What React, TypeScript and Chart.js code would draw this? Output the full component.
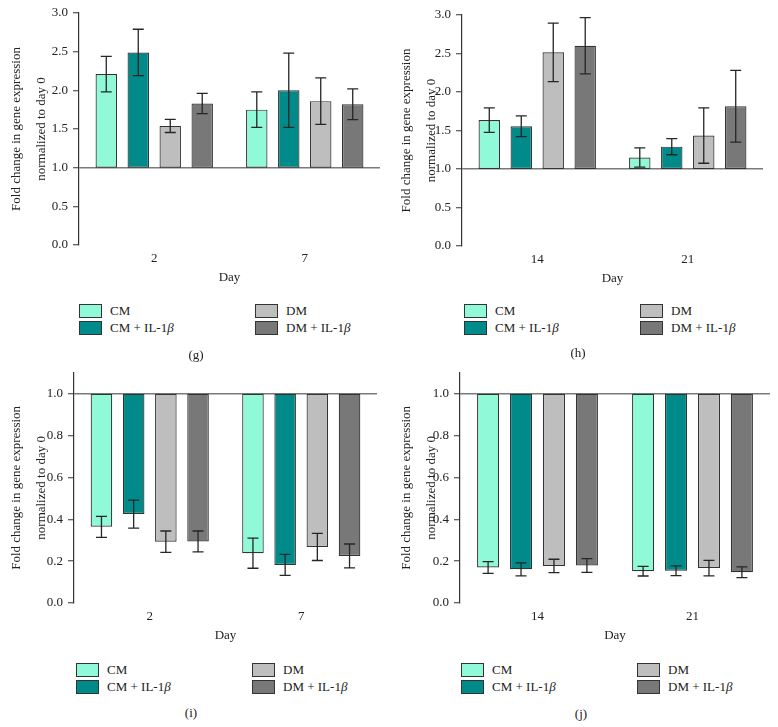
import React, { useEffect, useRef } from "react";
import { Chart, registerables } from "chart.js";

Chart.register(...registerables);

const FONT = "'Liberation Serif', 'Times New Roman', serif";

const SERIES = ["CM", "CM + IL-1β", "DM", "DM + IL-1β"];
const COLORS = ["#8ff9d8", "#008b8a", "#bebebe", "#787878"];
const BORDER = "#333333";

// Panel (g)
const gDays = ["2", "7"];
const gCM = [2.21, 1.75];
const gCMErr = [0.23, 0.23];
const gCMIL = [2.49, 2.0];
const gCMILErr = [0.3, 0.48];
const gDM = [1.54, 1.86];
const gDMErr = [0.085, 0.3];
const gDMIL = [1.83, 1.82];
const gDMILErr = [0.13, 0.2];

// Panel (h)
const hDays = ["14", "21"];
const hCM = [1.635, 1.15];
const hCMErr = [0.16, 0.125];
const hCMIL = [1.555, 1.29];
const hCMILErr = [0.135, 0.105];
const hDM = [2.515, 1.435];
const hDMErr = [0.38, 0.36];
const hDMIL = [2.6, 1.815];
const hDMILErr = [0.365, 0.465];

// Panel (i)
const iDays = ["2", "7"];
const iCM = [0.364, 0.238];
const iCMErr = [0.05, 0.072];
const iCMIL = [0.425, 0.182];
const iCMILErr = [0.067, 0.05];
const iDM = [0.293, 0.268];
const iDMErr = [0.051, 0.065];
const iDMIL = [0.294, 0.225];
const iDMILErr = [0.05, 0.057];

// Panel (j)
const jDays = ["14", "21"];
const jCM = [0.17, 0.152];
const jCMErr = [0.028, 0.023];
const jCMIL = [0.161, 0.154];
const jCMILErr = [0.031, 0.023];
const jDM = [0.177, 0.167];
const jDMErr = [0.032, 0.037];
const jDMIL = [0.179, 0.147];
const jDMILErr = [0.033, 0.026];

const ticksUp = [0, 0.5, 1.0, 1.5, 2.0, 2.5, 3.0];
const ticksDown = [0, 0.2, 0.4, 0.6, 0.8, 1.0];
const BASELINE = 1;

const errorBarPlugin = {
  id: "errorBars",
  afterDatasetsDraw(chart: any) {
    const { ctx } = chart;
    const yScale = chart.scales.y;
    chart.data.datasets.forEach((ds: any, i: number) => {
      const meta = chart.getDatasetMeta(i);
      meta.data.forEach((el: any, j: number) => {
        const m = ds.means[j];
        const e = ds.errors[j];
        const x = el.x;
        const yT = yScale.getPixelForValue(m + e);
        const yB = yScale.getPixelForValue(m - e);
        const cap = 5.5;
        ctx.save();
        ctx.strokeStyle = "#262626";
        ctx.lineWidth = 1.3;
        ctx.beginPath();
        ctx.moveTo(x, yT);
        ctx.lineTo(x, yB);
        ctx.moveTo(x - cap, yT);
        ctx.lineTo(x + cap, yT);
        ctx.moveTo(x - cap, yB);
        ctx.lineTo(x + cap, yB);
        ctx.stroke();
        ctx.restore();
      });
    });
  },
};

type PanelProps = {
  left: number;
  top: number;
  width: number;
  height: number;
  padding: { top: number; right: number; bottom: number; left: number };
  yWidth: number;
  xHeight: number;
  days: string[];
  means: number[][];
  errors: number[][];
  yMax: number;
  yTicks: number[];
};

function Panel(p: PanelProps) {
  const ref = useRef<HTMLCanvasElement>(null);
  useEffect(() => {
    if (!ref.current) return;
    const chart = new Chart(ref.current, {
      type: "bar",
      data: {
        labels: p.days,
        datasets: SERIES.map((name, k) => ({
          label: name,
          data: p.means[k].map((v) => [BASELINE, v]),
          means: p.means[k],
          errors: p.errors[k],
          backgroundColor: COLORS[k],
          borderColor: BORDER,
          borderWidth: 1.2,
          borderSkipped: false,
          categoryPercentage: 0.85,
          barPercentage: 0.67,
        })) as any,
      },
      options: {
        responsive: false,
        animation: false,
        devicePixelRatio: 1,
        layout: { padding: p.padding },
        plugins: {
          legend: { display: false },
          tooltip: { enabled: false },
        },
        scales: {
          x: {
            afterFit: (s: any) => {
              s.height = p.xHeight;
            },
            grid: { display: false, drawTicks: false },
            border: { display: false },
            ticks: {
              color: "#222",
              padding: 6,
              font: { family: FONT, size: 13 },
            },
            title: {
              display: true,
              text: "Day",
              color: "#222",
              padding: { top: 4, bottom: 4 },
              font: { family: FONT, size: 13 },
            },
          },
          y: {
            min: 0,
            max: p.yMax,
            afterFit: (s: any) => {
              s.width = p.yWidth;
            },
            afterBuildTicks: (s: any) => {
              s.ticks = p.yTicks.map((v) => ({ value: v }));
            },
            grid: {
              color: (c: any) =>
                c.tick && Math.abs(c.tick.value - BASELINE) < 1e-9 ? "#7a7a7a" : "rgba(0,0,0,0)",
              lineWidth: 1.5,
              drawTicks: true,
              tickLength: 6,
              tickColor: "#333",
              tickWidth: 1,
            },
            border: { display: true, color: "#333", width: 1.2 },
            ticks: {
              color: "#222",
              padding: 5,
              font: { family: FONT, size: 13 },
              callback: (v: any) => Number(v).toFixed(1),
            },
            title: {
              display: true,
              text: ["Fold change in gene expression", "normalized to day 0"],
              color: "#222",
              padding: { top: 4, bottom: 0 },
              font: { family: FONT, size: 13, lineHeight: "25px" },
            },
          },
        },
      },
      plugins: [errorBarPlugin],
    });
    return () => chart.destroy();
  }, []);
  return (
    <canvas
      ref={ref}
      width={p.width}
      height={p.height}
      style={{ position: "absolute", left: p.left, top: p.top, width: p.width, height: p.height }}
    />
  );
}

function LegendBlock({ x, y, dx }: { x: number; y: number; dx: number }) {
  const items = [
    { c: COLORS[0], t: <>CM</>, col: 0, row: 0 },
    { c: COLORS[1], t: <>CM + IL-1<i>β</i></>, col: 0, row: 1 },
    { c: COLORS[2], t: <>DM</>, col: 1, row: 0 },
    { c: COLORS[3], t: <>DM + IL-1<i>β</i></>, col: 1, row: 1 },
  ];
  return (
    <>
      {items.map((it, k) => (
        <div
          key={k}
          style={{
            position: "absolute",
            left: x + it.col * dx,
            top: y + it.row * 17,
            height: 14,
            display: "flex",
            alignItems: "center",
            whiteSpace: "nowrap",
          }}
        >
          <div
            style={{
              width: 21,
              height: 12,
              background: it.c,
              border: "1px solid #333",
              marginRight: 8,
            }}
          />
          <span style={{ fontFamily: FONT, fontSize: 13, color: "#222", lineHeight: "14px" }}>{it.t}</span>
        </div>
      ))}
    </>
  );
}

function Caption({ x, y, text }: { x: number; y: number; text: string }) {
  return (
    <div
      style={{
        position: "absolute",
        left: x - 20,
        top: y - 8,
        width: 40,
        textAlign: "center",
        fontFamily: FONT,
        fontSize: 13,
        lineHeight: "16px",
        color: "#222",
      }}
    >
      {text}
    </div>
  );
}

export default function App() {
  return (
    <div style={{ position: "absolute", left: 0, top: 0, width: 778, height: 727, background: "#fff", overflow: "hidden" }}>
      <Panel
        left={0}
        top={0}
        width={390}
        height={290}
        padding={{ top: 13, right: 10, bottom: 1, left: 0 }}
        yWidth={79}
        xHeight={44}
        days={gDays}
        means={[gCM, gCMIL, gDM, gDMIL]}
        errors={[gCMErr, gCMILErr, gDMErr, gDMILErr]}
        yMax={3}
        yTicks={ticksUp}
      />
      <Panel
        left={390}
        top={0}
        width={388}
        height={290}
        padding={{ top: 15, right: 15, bottom: 0, left: 0 }}
        yWidth={72}
        xHeight={44}
        days={hDays}
        means={[hCM, hCMIL, hDM, hDMIL]}
        errors={[hCMErr, hCMILErr, hDMErr, hDMILErr]}
        yMax={3}
        yTicks={ticksUp}
      />
      <Panel
        left={0}
        top={360}
        width={390}
        height={290}
        padding={{ top: 12, right: 13, bottom: 3, left: 0 }}
        yWidth={74}
        xHeight={44}
        days={iDays}
        means={[iCM, iCMIL, iDM, iDMIL]}
        errors={[iCMErr, iCMILErr, iDMErr, iDMILErr]}
        yMax={1.1}
        yTicks={ticksDown}
      />
      <Panel
        left={390}
        top={360}
        width={388}
        height={290}
        padding={{ top: 12, right: 8, bottom: 3, left: 0 }}
        yWidth={70}
        xHeight={44}
        days={jDays}
        means={[jCM, jCMIL, jDM, jDMIL]}
        errors={[jCMErr, jCMILErr, jDMErr, jDMILErr]}
        yMax={1.1}
        yTicks={ticksDown}
      />
      <LegendBlock x={79} y={304} dx={176} />
      <LegendBlock x={464} y={304} dx={176} />
      <LegendBlock x={76} y={663} dx={176} />
      <LegendBlock x={461} y={663} dx={176} />
      <Caption x={196} y={355} text="(g)" />
      <Caption x={578} y={353} text="(h)" />
      <Caption x={191} y={713} text="(i)" />
      <Caption x={581} y={714} text="(j)" />
    </div>
  );
}
